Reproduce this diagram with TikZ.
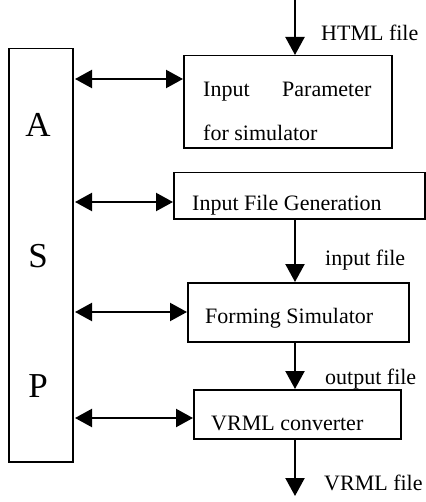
\documentclass[tikz,border=0pt]{standalone}
\usepackage{fontspec}
\setmainfont{Liberation Serif}
\usetikzlibrary{arrows.meta,calc}
\begin{document}
\begin{tikzpicture}[x=1bp,y=-1bp,
  box/.style={draw,line width=1.5bp,rectangle,inner sep=0pt,anchor=north west},
  lbl/.style={anchor=base west,inner sep=0pt,font=\fontsize{22bp}{26bp}\selectfont},
  big/.style={inner sep=0pt,font=\fontsize{35bp}{40bp}\selectfont},
  conn/.style={line width=2.2bp,-{Triangle[length=18bp,width=19bp]}},
  dconn/.style={line width=2.2bp,{Triangle[length=17bp,width=18bp]}-{Triangle[length=17bp,width=18bp]}}]
\useasboundingbox (0,0) rectangle (425,502);
% boxes
\node[box,minimum width=64bp,minimum height=413bp] (asp) at (8,48) {};
\node[box,minimum width=208bp,minimum height=92bp] (b1) at (183,55) {};
\node[box,minimum width=251bp,minimum height=46bp] (b2) at (173,172) {};
\node[box,minimum width=221bp,minimum height=59bp] (b3) at (187,282) {};
\node[box,minimum width=207bp,minimum height=49bp] (b4) at (193,389) {};
% ASP letters
\node[big] (la) at (38,125) {A};
\node[big] (ls) at (38,256) {S};
\node[big] (lp) at (38,386) {P};
% box texts
\node[lbl] (t1a) at (203,97) {Input};
\node[lbl] (t1b) at (282,97) {Parameter};
\node[lbl] (t1c) at (203,141) {for simulator};
\node[lbl] (t2) at (192,210) {Input File Generation};
\node[lbl] (t3) at (205,323) {Forming Simulator};
\node[lbl] (t4) at (211,430) {VRML converter};
% file labels
\node[lbl] (fhtml) at (321,41) {HTML file};
\node[lbl] (finput) at (325,265) {input file};
\node[lbl] (foutput) at (325,384) {output file};
\node[lbl] (fvrml) at (324,490) {VRML file};
% coordinates
\coordinate (top) at (295,0);
\coordinate (bot) at (295,496);
\coordinate (y1) at (0,79);
\coordinate (y2) at (0,202);
\coordinate (y3) at (0,312);
\coordinate (y4) at (0,418);
% vertical flow arrows
\draw[conn] (top) -- (b1.north -| top);
\draw[conn] (b2.south -| top) -- (b3.north -| top);
\draw[conn] (b3.south -| top) -- (b4.north -| top);
\draw[conn] (b4.south -| top) -- (bot);
% double arrows
\draw[dconn] ($(asp.east |- y1)+(1.5,0)$) -- (b1.west |- y1);
\draw[dconn] ($(asp.east |- y2)+(1.5,0)$) -- (b2.west |- y2);
\draw[dconn] ($(asp.east |- y3)+(1.5,0)$) -- (b3.west |- y3);
\draw[dconn] ($(asp.east |- y4)+(1.5,0)$) -- (b4.west |- y4);
\end{tikzpicture}
\end{document}
